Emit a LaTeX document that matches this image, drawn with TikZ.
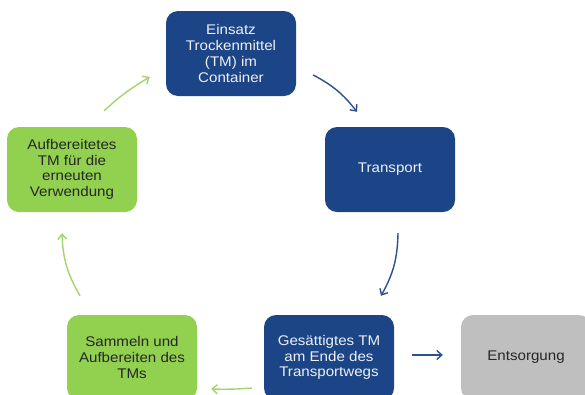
\documentclass[tikz,border=0pt]{standalone}
\usepackage{fontspec}
\setmainfont{Liberation Sans}[FakeStretch=1.08]
\usetikzlibrary{arrows.meta,calc}
\definecolor{boxblue}{HTML}{1B4586}
\definecolor{boxgreen}{HTML}{92D050}
\definecolor{boxgray}{HTML}{BFBFBF}
\definecolor{arrblue}{HTML}{2B4F8F}
\definecolor{arrgreen}{HTML}{A3D46E}
\tikzset{
  card/.style={rounded corners=12pt, minimum width=130pt, minimum height=85pt,
    align=center, inner sep=2pt, font=\fontsize{14}{15.7}\selectfont},
  bluecard/.style={card, fill=boxblue, text=white!92!boxblue},
  greencard/.style={card, fill=boxgreen, text=black!85},
  graycard/.style={card, fill=boxgray, text=black!85},
  barrow/.style={draw=arrblue, line width=1.4pt, -{Straight Barb[length=5pt,width=9pt]}},
  garrow/.style={draw=arrgreen, line width=1.4pt, -{Straight Barb[length=5pt,width=9pt]}},
}
\begin{document}
\begin{tikzpicture}[x=1pt,y=-1pt]
\useasboundingbox (0,0) rectangle (585,394);
\clip (0,0) rectangle (585,394);
\node[bluecard] (einsatz) at (231,53.5) {Einsatz\\Trockenmittel\\(TM) im\\Container};
\node[bluecard] (transport) at (390,169.5) {Transport};
\node[bluecard] (gesaettigt) at (329,357.5) {Gesättigtes TM\\am Ende des\\Transportwegs};
\node[graycard] (entsorgung) at (526,357.5) {Entsorgung};
\node[greencard] (sammeln) at (132,357.5) {Sammeln und\\Aufbereiten des\\TMs};
\node[greencard] (aufb) at (72,169.5) {Aufbereitetes\\TM für die\\erneuten\\Verwendung};

\coordinate (c1s) at ($(einsatz.east)+(17,21.5)$);
\coordinate (c1e) at ($(transport.north)+(-33,-15)$);
\coordinate (c2s) at ($(transport.south)+(8,21)$);
\coordinate (c2e) at ($(gesaettigt.north)+(52,-19)$);
\coordinate (c3s) at ($(gesaettigt.east)+(18,-2.5)$);
\coordinate (c3e) at ($(entsorgung.west)+(-18,-2.5)$);
\coordinate (c4s) at ($(gesaettigt.west)+(-12,30.5)$);
\coordinate (c4e) at ($(sammeln.east)+(14,31.5)$);
\coordinate (c5s) at ($(sammeln.north)+(-52,-19)$);
\coordinate (c5e) at ($(aufb.south)+(-10,21)$);
\coordinate (c6s) at ($(aufb.north)+(32,-16)$);
\coordinate (c6e) at ($(einsatz.west)+(-16,23.5)$);

\draw[barrow] (c1s) to[bend left=12] (c1e);
\draw[barrow] (c2s) to[bend left=14] (c2e);
\draw[barrow] (c3s) -- (c3e);
\draw[garrow] (c4s) to[bend left=3] (c4e);
\draw[garrow] (c5s) to[bend left=14] (c5e);
\draw[garrow] (c6s) to[bend left=6] (c6e);
\end{tikzpicture}
\end{document}
